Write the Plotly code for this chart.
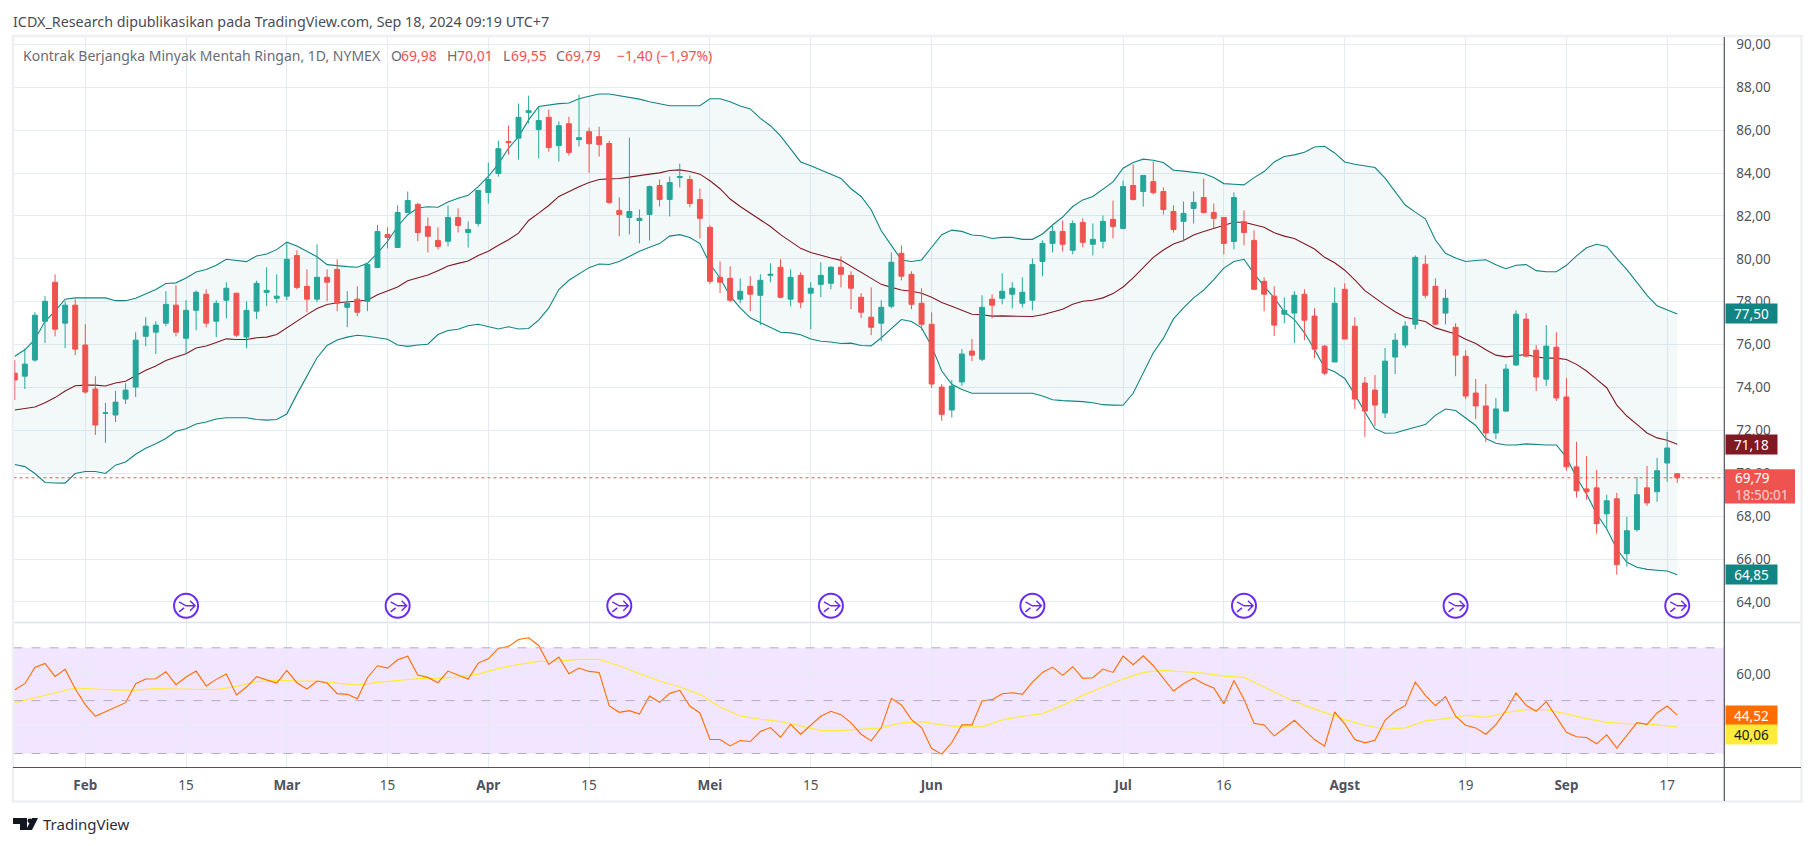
import plotly.graph_objects as go

W = 1814
H = 846

opens = [
    74.67, 74.53, 75.28, 77.09, 78.91, 77.0, 77.84, 75.98, 73.93, 72.8,
    72.72, 73.46, 74.02, 76.39, 76.58, 77.0, 77.84, 76.3, 77.6, 78.35,
    77.09, 78.07, 78.4, 76.35, 77.56, 78.44, 78.16, 78.26, 80.16, 78.72,
    78.12, 79.14, 79.51, 77.74, 78.12, 78.02, 79.6, 81.14, 80.53, 82.16,
    82.54, 81.51, 80.86, 80.82, 81.93, 81.23, 81.65, 83.09, 83.98, 85.47,
    85.63, 86.82, 86.03, 86.6, 85.28, 86.3, 85.56, 85.93, 85.7, 85.38,
    82.26, 81.93, 81.79, 82.07, 83.42, 82.77, 83.79, 83.7, 82.77, 81.47,
    79.14, 79.09, 78.12, 78.72, 78.3, 79.23, 79.61, 78.12, 79.23, 78.4,
    78.81, 78.86, 79.61, 79.23, 78.21, 77.28, 77.0, 77.79, 80.26, 79.28,
    77.93, 76.95, 74.02, 72.95, 74.26, 75.7, 75.32, 78.12, 78.16, 78.35,
    77.93, 78.07, 79.88, 80.72, 81.28, 80.4, 81.7, 80.68, 80.82, 81.84,
    81.42, 83.42, 83.14, 83.6, 83.14, 82.21, 81.75, 82.35, 82.86, 82.16,
    81.93, 80.81, 81.73, 80.86, 78.95, 78.26, 77.42, 77.47, 78.35, 77.33,
    75.93, 75.19, 78.58, 76.86, 74.21, 73.88, 72.81, 75.42, 75.98, 76.95,
    79.75, 78.72, 77.47, 76.81, 75.46, 73.74, 73.14, 71.88, 72.9, 75.05,
    77.19, 75.74, 74.39, 75.88, 73.56, 70.3, 69.27, 69.32, 68.11, 68.81,
    66.25, 67.37, 69.32, 69.14, 70.48, 69.98,
]
highs = [
    75.28, 75.82, 77.51, 78.26, 79.28, 78.02, 78.12, 76.95, 74.53, 73.28,
    73.84, 74.2, 76.58, 77.28, 77.09, 78.49, 78.77, 78.07, 78.53, 78.58,
    78.07, 78.91, 78.4, 78.02, 78.98, 79.6, 79.28, 80.78, 80.4, 79.51,
    80.68, 79.51, 79.98, 78.49, 78.72, 79.8, 81.59, 81.47, 82.49, 83.14,
    82.61, 81.93, 81.47, 82.49, 82.35, 81.75, 83.19, 84.49, 85.51, 86.21,
    87.24, 87.61, 87.1, 86.96, 86.41, 86.63, 87.65, 86.12, 86.16, 85.51,
    82.86, 85.65, 82.3, 83.42, 83.7, 83.84, 84.44, 83.89, 83.28, 81.56,
    79.88, 79.65, 79.09, 79.19, 79.28, 79.79, 79.98, 79.51, 79.37, 78.91,
    79.84, 79.65, 80.12, 79.42, 78.4, 78.67, 78.07, 80.3, 80.63, 79.42,
    78.63, 77.51, 74.16, 74.35, 75.79, 76.26, 78.3, 78.35, 79.33, 78.91,
    79.14, 80.02, 80.86, 81.56, 81.79, 81.79, 81.89, 81.65, 82.02, 82.72,
    83.65, 84.4, 83.89, 84.54, 83.33, 82.49, 82.67, 83.14, 83.75, 82.58,
    81.93, 83.1, 82.26, 81.33, 79.14, 78.72, 78.21, 78.49, 78.58, 77.7,
    75.98, 78.67, 78.86, 77.28, 74.49, 74.58, 75.84, 76.53, 77.09, 80.16,
    80.16, 79.09, 78.58, 77.0, 75.74, 74.4, 74.16, 73.51, 75.09, 77.6,
    77.47, 75.98, 76.91, 76.58, 74.45, 71.47, 70.81, 70.16, 69.0, 69.09,
    67.97, 69.83, 70.34, 70.72, 71.93, 70.01,
]
lows = [
    73.42, 73.93, 75.2, 76.07, 76.39, 75.84, 75.51, 73.71, 71.79, 71.42,
    72.39, 73.23, 73.56, 75.93, 75.56, 76.86, 76.39, 75.56, 76.67, 76.81,
    76.35, 77.23, 76.35, 75.84, 77.19, 77.79, 77.93, 78.07, 78.58, 77.51,
    77.98, 78.02, 77.56, 76.81, 77.33, 77.56, 79.56, 80.49, 80.53, 82.16,
    80.82, 80.3, 80.44, 80.58, 81.23, 80.53, 81.51, 82.58, 83.84, 84.86,
    84.63, 86.31, 84.68, 85.0, 84.54, 84.82, 85.24, 84.02, 84.77, 82.55,
    81.05, 81.14, 80.72, 80.86, 82.44, 81.98, 83.33, 82.4, 80.95, 78.83,
    78.4, 77.98, 77.93, 77.56, 76.91, 78.91, 78.16, 77.79, 77.7, 76.72,
    78.21, 78.58, 78.67, 77.65, 77.23, 76.44, 76.16, 77.7, 79.0, 77.65,
    76.67, 73.98, 72.45, 72.6, 74.07, 75.23, 75.23, 77.23, 77.88, 77.7,
    77.74, 77.6, 79.19, 80.3, 80.35, 80.21, 80.54, 80.16, 80.49, 80.95,
    81.37, 82.72, 82.44, 83.0, 82.07, 81.23, 80.81, 81.65, 82.12, 81.42,
    80.21, 80.44, 80.63, 78.58, 77.56, 76.4, 77.0, 76.07, 76.21, 75.37,
    74.58, 75.19, 76.26, 73.0, 71.7, 72.2, 72.58, 74.63, 75.84, 76.72,
    78.16, 76.91, 76.95, 74.53, 73.46, 72.53, 71.46, 71.6, 72.86, 75.0,
    75.42, 73.84, 74.07, 73.37, 70.11, 68.86, 68.76, 67.18, 67.36, 65.27,
    65.65, 67.28, 68.48, 68.67, 69.6, 69.55,
]
closes = [
    74.35, 75.09, 77.37, 78.02, 76.72, 77.84, 75.79, 73.79, 72.25, 72.82,
    73.32, 73.88, 76.21, 76.86, 76.91, 77.88, 76.58, 77.6, 78.44, 77.0,
    77.93, 78.63, 76.44, 77.6, 78.86, 78.53, 78.26, 79.98, 78.67, 78.12,
    79.14, 78.91, 77.93, 77.93, 77.51, 79.74, 81.28, 81.0, 82.16, 82.72,
    81.23, 81.05, 80.58, 81.93, 81.56, 81.37, 83.19, 83.7, 85.14, 85.42,
    86.6, 86.91, 86.45, 85.19, 86.21, 84.96, 85.65, 85.37, 85.33, 82.63,
    82.07, 82.21, 81.89, 83.37, 82.77, 83.56, 83.84, 82.58, 81.89, 78.95,
    78.91, 78.07, 78.49, 78.35, 79.0, 79.28, 78.21, 79.14, 77.98, 78.63,
    79.23, 79.61, 79.28, 78.63, 77.51, 76.81, 77.74, 79.84, 79.19, 77.88,
    76.95, 74.16, 72.75, 74.07, 75.56, 75.51, 77.74, 77.84, 78.49, 78.63,
    78.44, 79.74, 80.72, 81.28, 80.68, 81.65, 80.77, 80.91, 81.75, 81.51,
    83.37, 82.77, 83.89, 83.09, 82.3, 81.37, 82.12, 82.63, 82.16, 81.89,
    80.72, 82.86, 81.23, 78.58, 78.35, 76.91, 77.6, 78.3, 77.14, 75.79,
    74.67, 77.93, 76.26, 73.46, 72.9, 73.18, 75.23, 76.21, 76.86, 80.07,
    78.3, 76.95, 78.16, 75.51, 73.6, 73.14, 71.88, 73.0, 74.86, 77.42,
    75.46, 74.49, 75.93, 73.51, 70.3, 69.18, 69.14, 67.65, 68.72, 65.74,
    67.32, 69.0, 68.62, 70.12, 71.18, 69.79,
]

bb_upper = [
    75.46, 75.76, 76.24, 77.09, 77.56, 78.12, 78.18, 78.19, 78.19, 78.18,
    78.05, 78.05, 78.16, 78.36, 78.57, 78.85, 78.88, 79.11, 79.39, 79.5,
    79.7, 79.98, 79.93, 79.87, 80.13, 80.23, 80.43, 80.78, 80.6, 80.35,
    80.1, 79.73, 79.67, 79.64, 79.61, 79.79, 80.27, 80.82, 81.51, 82.06,
    82.37, 82.43, 82.41, 82.65, 82.83, 82.96, 83.37, 83.84, 84.43, 85.16,
    85.7, 86.48, 87.11, 87.19, 87.24, 87.27, 87.47, 87.58, 87.69, 87.69,
    87.62, 87.55, 87.45, 87.33, 87.22, 87.14, 87.14, 87.14, 87.14, 87.47,
    87.47, 87.33, 87.13, 86.99, 86.55, 86.21, 85.73, 85.13, 84.52, 84.34,
    84.15, 83.95, 83.75, 83.27, 82.91, 82.29, 81.31, 80.63, 79.95, 79.88,
    79.95, 80.54, 81.13, 81.34, 81.28, 81.11, 81.08, 80.95, 81.0, 81.0,
    80.91, 80.91, 81.16, 81.58, 81.95, 82.44, 82.75, 82.91, 83.27, 83.59,
    84.23, 84.49, 84.65, 84.6, 84.49, 84.13, 84.09, 84.04, 83.98, 83.79,
    83.51, 83.48, 83.45, 83.79, 84.07, 84.52, 84.77, 84.85, 84.97, 85.22,
    85.25, 84.94, 84.52, 84.41, 84.35, 84.26, 83.76, 83.14, 82.51, 82.18,
    81.87, 80.88, 80.26, 80.04, 79.88, 79.92, 79.96, 79.73, 79.54, 79.7,
    79.73, 79.45, 79.4, 79.4, 79.7, 80.14, 80.52, 80.68, 80.58, 80.02,
    79.5, 78.9, 78.3, 77.81, 77.62, 77.43,
]
bb_basis = [
    72.95, 73.01, 73.09, 73.29, 73.53, 73.84, 74.08, 74.11, 74.11, 74.07,
    74.21, 74.29, 74.53, 74.8, 75.0, 75.26, 75.42, 75.57, 75.84, 75.94,
    76.1, 76.27, 76.24, 76.24, 76.32, 76.35, 76.47, 76.78, 77.12, 77.4,
    77.68, 77.87, 77.95, 77.99, 78.02, 78.07, 78.33, 78.52, 78.69, 78.98,
    79.12, 79.25, 79.45, 79.67, 79.79, 79.9, 80.16, 80.35, 80.63, 80.89,
    81.2, 81.79, 82.13, 82.49, 82.91, 83.14, 83.36, 83.56, 83.7, 83.73,
    83.75, 83.81, 83.89, 83.95, 84.01, 84.12, 84.15, 84.07, 83.95, 83.64,
    83.27, 82.79, 82.44, 82.13, 81.79, 81.51, 81.13, 80.82, 80.49, 80.3,
    80.16, 80.04, 79.93, 79.65, 79.37, 79.06, 78.81, 78.67, 78.55, 78.49,
    78.4, 78.21, 77.96, 77.79, 77.6, 77.42, 77.39, 77.33, 77.34, 77.34,
    77.31, 77.31, 77.39, 77.51, 77.65, 77.88, 78.02, 78.07, 78.18, 78.38,
    78.69, 79.11, 79.61, 80.07, 80.41, 80.69, 80.86, 81.11, 81.28, 81.42,
    81.58, 81.71, 81.71, 81.59, 81.47, 81.22, 81.06, 80.95, 80.71, 80.46,
    80.07, 79.82, 79.47, 79.02, 78.52, 78.16, 77.84, 77.53, 77.28, 77.17,
    77.08, 76.78, 76.63, 76.5, 76.25, 76.05, 75.76, 75.51, 75.43, 75.49,
    75.54, 75.42, 75.37, 75.37, 75.31, 75.08, 74.77, 74.38, 73.99, 73.18,
    72.67, 72.28, 71.88, 71.65, 71.54, 71.35,
]
bb_lower = [
    70.41, 70.31, 69.99, 69.57, 69.55, 69.54, 69.99, 70.08, 70.08, 69.99,
    70.38, 70.53, 70.89, 71.17, 71.38, 71.62, 71.96, 72.08, 72.3, 72.39,
    72.53, 72.59, 72.59, 72.59, 72.51, 72.48, 72.51, 72.76, 73.68, 74.53,
    75.39, 75.96, 76.22, 76.35, 76.44, 76.39, 76.33, 76.25, 75.98, 75.92,
    75.98, 76.02, 76.47, 76.66, 76.72, 76.88, 76.95, 76.83, 76.73, 76.83,
    76.73, 76.75, 77.14, 77.71, 78.57, 79.0, 79.28, 79.59, 79.76, 79.74,
    79.88, 80.12, 80.35, 80.54, 80.71, 81.06, 81.13, 81.0, 80.71, 79.76,
    79.11, 78.26, 77.71, 77.25, 77.02, 76.78, 76.58, 76.55, 76.46, 76.26,
    76.16, 76.12, 76.05, 76.07, 75.96, 75.94, 76.32, 76.75, 77.17, 77.08,
    76.78, 75.93, 74.77, 74.15, 73.91, 73.73, 73.73, 73.73, 73.73, 73.74,
    73.73, 73.73, 73.6, 73.43, 73.39, 73.37, 73.34, 73.29, 73.2, 73.18,
    73.17, 73.73, 74.64, 75.62, 76.29, 77.2, 77.71, 78.18, 78.54, 79.03,
    79.57, 79.88, 79.98, 79.31, 78.72, 78.18, 77.53, 77.17, 76.55, 75.77,
    74.92, 74.73, 74.42, 73.68, 72.86, 72.08, 71.87, 71.88, 72.02, 72.16,
    72.27, 72.7, 73.0, 72.93, 72.59, 72.23, 71.62, 71.4, 71.32, 71.32,
    71.37, 71.34, 71.32, 71.32, 70.74, 69.8, 69.03, 68.1, 67.4, 66.47,
    65.85, 65.62, 65.52, 65.48, 65.44, 65.27,
]

rsi = [
    54.14, 56.4, 62.57, 64.08, 59.17, 61.81, 54.52, 48.48, 44.08, 45.71,
    47.35, 49.23, 56.4, 58.16, 58.29, 60.93, 56.03, 58.92, 61.18, 55.52,
    58.04, 60.05, 52.13, 55.14, 59.04, 57.79, 56.65, 61.43, 56.78, 54.39,
    57.41, 56.65, 52.63, 52.38, 50.74, 58.67, 63.2, 62.31, 65.46, 66.84,
    59.67, 58.79, 56.78, 61.18, 59.67, 58.16, 64.2, 65.84, 69.86, 70.49,
    73.13, 73.76, 70.87, 63.7, 66.47, 60.18, 62.31, 61.06, 60.68, 47.97,
    45.58, 46.2, 44.95, 51.75, 49.36, 52.75, 53.89, 47.97, 45.33, 35.27,
    35.27, 32.88, 34.89, 34.52, 38.29, 39.8, 36.15, 41.06, 37.28, 40.68,
    44.08, 45.96, 44.7, 41.56, 37.28, 34.77, 39.8, 50.87, 48.35, 42.82,
    39.8, 31.88, 29.74, 34.14, 40.81, 40.81, 49.86, 50.36, 52.63, 53.0,
    52.38, 57.03, 60.68, 62.69, 59.55, 62.82, 58.42, 58.67, 61.94, 60.68,
    66.84, 63.57, 66.97, 63.2, 58.29, 53.64, 56.4, 58.54, 56.4, 54.77,
    48.85, 57.6, 50.49, 41.43, 40.81, 36.66, 39.55, 42.57, 38.92, 35.27,
    32.76, 45.71, 41.18, 35.27, 34.01, 35.02, 42.57, 45.96, 48.1, 57.03,
    52.0, 48.1, 51.5, 44.08, 40.68, 39.68, 37.28, 40.93, 46.33, 52.87,
    48.23, 45.96, 49.61, 43.58, 38.0, 36.3, 36.05, 33.66, 37.03, 32.0,
    36.9, 41.67, 41.04, 45.33, 47.97, 44.52,
]

# yellow average, read every second bar
rsi_ma_bars = list(range(0, 165, 2)) + [165]
rsi_ma = [
    49.23, 51.0, 52.88, 54.77, 54.39, 54.0, 54.0, 54.52, 54.39, 54.14,
    54.14, 55.4, 57.16, 57.79, 57.41, 57.41, 56.65, 55.9, 56.9, 57.66,
    58.29, 58.42, 58.92, 60.05, 62.19, 63.7, 64.83, 64.96, 65.59, 65.59,
    63.2, 60.18, 57.41, 55.14, 52.38, 47.6, 44.2, 42.95, 42.06, 40.43,
    38.67, 38.67, 39.3, 39.67, 41.56, 42.06, 40.81, 40.05, 40.05, 42.69,
    44.08, 45.08, 48.22, 52.0, 55.14, 58.16, 60.68, 61.43, 60.93, 60.43,
    59.3, 58.79, 55.14, 51.37, 48.22, 45.58, 42.82, 40.68, 39.17, 39.67,
    42.31, 43.2, 44.45, 43.7, 45.49, 46.6, 46.6, 44.96, 43.2, 41.8,
    41.3, 41.2, 40.3, 40.06,
]

tick_bars = [7, 17, 27, 37, 47, 57, 69, 79, 91, 110, 120, 132, 144, 154, 164]
tick_labels = ["<b>Feb</b>", "15", "<b>Mar</b>", "15", "<b>Apr</b>", "15", "<b>Mei</b>", "15",
               "<b>Jun</b>", "<b>Jul</b>", "16", "<b>Agst</b>", "19", "<b>Sep</b>", "17"]
dividend_bars = [17, 38, 60, 81, 101, 122, 143, 165]

header = "ICDX_Research dipublikasikan pada TradingView.com, Sep 18, 2024 09:19 UTC+7"
symbol = "Kontrak Berjangka Minyak Mentah Ringan, 1D, NYMEX"

UP = "#26a69a"
DOWN = "#ef5350"
BAND = "#138484"
BASIS = "#801922"
GRID = "#e4ebf1"
FRAME = "#eef0f3"
AXIS = "#50535e"
FONT = "Noto Sans"


def px(x):
    return x / W


def py(y):
    return 1 - y / H


bars = list(range(len(closes)))
x_range = [-0.125, 169.67]
price_range = [63.04, 90.35]
rsi_range = [24.7, 79.55]
icon_price = 63.82

traces = [
    go.Scatter(x=bars, y=bb_upper, mode="lines", line=dict(color=BAND, width=1.1)),
    go.Scatter(x=bars, y=bb_lower, mode="lines", line=dict(color=BAND, width=1.1),
               fill="tonexty", fillcolor="rgba(19,132,132,0.05)"),
    go.Scatter(x=bars, y=bb_basis, mode="lines", line=dict(color=BASIS, width=1.1)),
    go.Scatter(x=dividend_bars, y=[icon_price] * len(dividend_bars), mode="markers",
               marker=dict(symbol="circle", size=24, color="white",
                           line=dict(color="#6a2cf5", width=2))),
    go.Candlestick(x=bars, open=opens, high=highs, low=lows, close=closes, yaxis="y3",
                   increasing=dict(line=dict(color=UP, width=1), fillcolor=UP),
                   decreasing=dict(line=dict(color=DOWN, width=1), fillcolor=DOWN)),
    go.Scatter(x=rsi_ma_bars, y=rsi_ma, mode="lines", yaxis="y2",
               line=dict(color="#ffeb3b", width=1.2)),
    go.Scatter(x=bars, y=rsi, mode="lines", yaxis="y2",
               line=dict(color="#ff6d00", width=1.1)),
]

fig = go.Figure(data=traces)

shapes = [
    # rsi band and its levels
    dict(type="rect", xref="paper", x0=px(13.5), x1=px(1724.3), yref="y2", y0=30, y1=70,
         fillcolor="rgba(126,0,255,0.1)", line_width=0, layer="below"),
]
for level in [70, 50, 30]:
    shapes.append(dict(type="line", xref="paper", x0=px(13.5), x1=px(1724.3), yref="y2",
                       y0=level, y1=level, line=dict(color="#b4aeb9", width=1, dash="dash")))
shapes += [
    # last price
    dict(type="line", xref="paper", x0=px(13.5), x1=px(1724.3), yref="y",
         y0=closes[-1], y1=closes[-1], line=dict(color=DOWN, width=1, dash="dot")),
    # frame
    dict(type="line", xref="paper", yref="paper", x0=px(13), x1=px(1801), y0=py(622), y1=py(622),
         line=dict(color="#e0e3eb", width=1.5)),
    dict(type="rect", xref="paper", yref="paper", x0=px(13), x1=px(1801.5), y0=py(801.5), y1=py(34),
         line=dict(color=FRAME, width=2.5)),
    dict(type="line", xref="paper", yref="paper", x0=px(13), x1=px(1801), y0=py(767.3), y1=py(767.3),
         line=dict(color=AXIS, width=1.2)),
    dict(type="line", xref="paper", yref="paper", x0=px(1724.3), x1=px(1724.3), y0=py(801), y1=py(35),
         line=dict(color=AXIS, width=1.2)),
    # countdown box
    dict(type="rect", xref="paper", yref="paper", x0=px(1725), x1=px(1795), y0=py(502.7), y1=py(468.3),
         line_width=0, fillcolor=DOWN),
    # tradingview logo
    dict(type="path", xref="paper", yref="paper", line_width=0, fillcolor="#131722",
         path=f"M{px(13)},{py(818)} H{px(27)} V{py(830)} H{px(20)} V{py(824)} H{px(13)} Z"),
    dict(type="path", xref="paper", yref="paper", line_width=0, fillcolor="#131722",
         path=f"M{px(32)},{py(818)} H{px(38)} L{px(32)},{py(830)} H{px(26)} Z"),
    dict(type="circle", xref="paper", yref="paper", line_width=0, fillcolor="#131722",
         x0=px(27.5), x1=px(32), y0=py(823), y1=py(818.5)),
]
for bar in dividend_bars:
    shapes.append(dict(type="path", xref="x", yref="y", xsizemode="pixel", ysizemode="pixel",
                       xanchor=bar, yanchor=icon_price,
                       path="M -7,4 L 0,0 L 9,0 M 4,5 L 9,0 L 4,-5 M -7,-6 L -2,-2",
                       line=dict(color="#6a2cf5", width=1.5)))


def tag(y, yref, text, bg, fg, yshift=0):
    return dict(xref="paper", x=px(1725), xanchor="left", yref=yref, y=y, yanchor="middle",
                yshift=yshift, text=text, showarrow=False, bgcolor=bg, width=51, height=19,
                borderpad=0, align="center", font=dict(color=fg, size=13.5, family=FONT))


def label(x, y, text, color, size=14):
    return dict(xref="paper", yref="paper", x=px(x), y=py(y), xanchor="left", yanchor="middle",
                text=text, showarrow=False, font=dict(color=color, size=size, family=FONT))


def comma(v):
    return f"{v:.2f}".replace(".", ",")


annotations = [
    label(11, 20, header, "#4a4d57", 14.3),
    label(21, 54, symbol, "#6a6d78"),
    label(389, 54, "O", "#6a6d78"), label(399, 54, comma(opens[-1]), DOWN),
    label(445, 54, "H", "#6a6d78"), label(455, 54, comma(highs[-1]), DOWN),
    label(501, 54, "L", "#6a6d78"), label(509, 54, comma(lows[-1]), DOWN),
    label(554, 54, "C", "#6a6d78"), label(563, 54, comma(closes[-1]), DOWN),
    label(615, 54, "−1,40 (−1,97%)", DOWN),
    label(41, 824, "TradingView", "#2a2e39", 15),
    tag(bb_upper[-1], "y", comma(77.50), BAND, "white"),
    tag(bb_basis[-1], "y", comma(71.18), BASIS, "white"),
    tag(bb_lower[-1], "y", comma(64.85), BAND, "white"),
    tag(rsi[-1], "y2", comma(44.52), "#ff6d00", "white"),
    tag(rsi_ma[-1], "y2", comma(40.06), "#ffeb3b", "#131722", yshift=-7.7),
    label(1733, 477, comma(closes[-1]), "white", 13.5),
    label(1733, 494, "18:50:01", "#fbd3d2", 13.5),
]

fig.update_layout(
    width=W,
    height=H,
    margin=dict(l=0, r=0, t=0, b=0),
    paper_bgcolor="white",
    plot_bgcolor="white",
    showlegend=False,
    separators=",.",
    font=dict(family=FONT, size=13.5, color="#50535e"),
    shapes=shapes,
    annotations=annotations,
    xaxis=dict(
        domain=[px(13.5), px(1724.3)],
        range=x_range,
        anchor="y2",
        tickmode="array",
        tickvals=tick_bars,
        ticktext=tick_labels,
        showgrid=True,
        gridcolor=GRID,
        gridwidth=1.2,
        zeroline=False,
        ticklen=0,
        ticklabelstandoff=8,
        rangeslider=dict(visible=False),
    ),
    yaxis=dict(
        domain=[py(622), py(35)],
        range=price_range,
        anchor="x",
        side="right",
        dtick=2,
        tick0=64,
        tickformat=".2f",
        gridcolor=GRID,
        gridwidth=1.2,
        zeroline=False,
        ticklen=0,
        ticklabelstandoff=11,
    ),
    yaxis2=dict(
        domain=[py(767.3), py(622)],
        range=rsi_range,
        anchor="x",
        side="right",
        tickmode="array",
        tickvals=[40, 60],
        tickformat=".2f",
        gridcolor=GRID,
        gridwidth=1.2,
        zeroline=False,
        ticklen=0,
        ticklabelstandoff=11,
    ),
    yaxis3=dict(
        overlaying="y",
        range=price_range,
        anchor="x",
        side="right",
        showgrid=False,
        showticklabels=False,
        zeroline=False,
    ),
)

fig.write_html(
    "out.html",
    config=dict(displayModeBar=False),
    post_script="document.body.style.margin='0';document.body.style.overflow='hidden';",
)
